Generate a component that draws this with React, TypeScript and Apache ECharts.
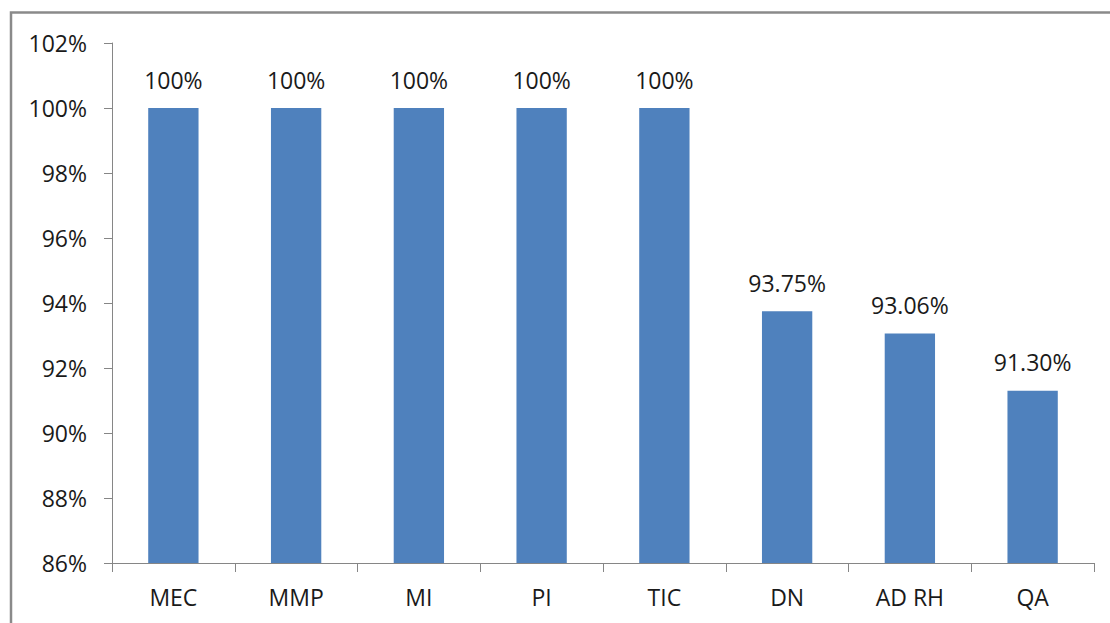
import React, { useEffect, useRef } from "react";
import * as echarts from "echarts";

const categories = ["MEC", "MMP", "MI", "PI", "TIC", "DN", "AD RH", "QA"];
const values = [100, 100, 100, 100, 100, 93.75, 93.06, 91.3];
const valueLabels = ["100%", "100%", "100%", "100%", "100%", "93.75%", "93.06%", "91.30%"];

export default function App() {
  const ref = useRef<HTMLDivElement>(null);
  useEffect(() => {
    if (!ref.current) return;
    const chart = echarts.init(ref.current, null, { renderer: "svg" });
    const font = "'Open Sans', 'Liberation Sans', sans-serif";
    chart.setOption({
      animation: false,
      backgroundColor: "#ffffff",
      grid: { left: 112, top: 43, right: 16, bottom: 60, containLabel: false },
      graphic: [
        {
          type: "polyline",
          shape: { points: [[11, 640], [11, 12.5], [1130, 12.5]] },
          style: { stroke: "#8a8a8a", lineWidth: 2.5, fill: "none" },
          silent: true,
        },
      ],
      xAxis: {
        type: "category",
        data: categories,
        axisLine: { lineStyle: { color: "#868686", width: 1 } },
        axisTick: { show: true, length: 9, lineStyle: { color: "#868686" } },
        axisLabel: { color: "#1a1a1a", fontSize: 23, fontFamily: font, margin: 22 },
      },
      yAxis: {
        type: "value",
        min: 86,
        max: 102,
        interval: 2,
        splitLine: { show: false },
        axisLine: { show: true, lineStyle: { color: "#868686", width: 1 } },
        axisTick: { show: true, length: 8, lineStyle: { color: "#868686" } },
        axisLabel: {
          color: "#1a1a1a",
          fontSize: 23,
          fontFamily: font,
          margin: 25,
          formatter: (v: number) => v + "%",
        },
      },
      series: [
        {
          type: "bar",
          data: values,
          barWidth: "41%",
          itemStyle: { color: "#4f81bd" },
          label: {
            show: true,
            position: "top",
            distance: 17,
            color: "#1a1a1a",
            fontSize: 23,
            fontFamily: font,
            formatter: (p: any) => valueLabels[p.dataIndex],
          },
        },
      ],
    });
    return () => chart.dispose();
  }, []);
  return (
    <div
      ref={ref}
      style={{ position: "fixed", left: 0, top: 0, width: 1110, height: 623 }}
    />
  );
}
